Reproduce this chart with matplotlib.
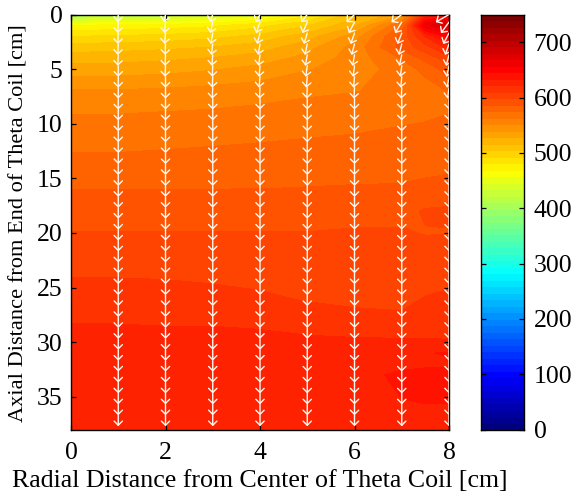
import numpy as np
import matplotlib
matplotlib.use('Agg')
import matplotlib.pyplot as plt
from matplotlib.colors import LinearSegmentedColormap
from matplotlib.patches import FancyArrowPatch

plt.rcParams['font.family'] = ['Liberation Serif', 'DejaVu Serif']

# temperature table, rows follow z_table, columns follow r_table
r_table = [0, 1, 2, 3, 4, 5, 6, 7, 7.5, 8]
z_table = [0, 1, 2, 3, 4, 5, 7, 9, 12, 16, 18, 20, 22, 24, 26, 28, 30, 31, 32, 33, 38]
temp = [
    [405, 412, 420, 432, 448, 475, 510, 535, 620, 640],
    [470, 472, 474, 478, 488, 503, 525, 575, 665, 680],
    [492, 494, 496, 500, 508, 522, 545, 590, 622, 650],
    [510, 511, 513, 516, 522, 535, 555, 590, 605, 625],
    [522, 523, 525, 528, 533, 543, 556, 575, 590, 605],
    [532, 533, 535, 538, 543, 550, 556, 568, 578, 592],
    [552, 552, 553, 555, 557, 560, 562, 566, 568, 575],
    [562, 562, 563, 564, 566, 568, 569, 571, 572, 574],
    [572, 572, 573, 574, 575, 576, 577, 579, 580, 580],
    [586, 586, 586, 586, 586, 586.5, 587, 587, 588, 589],
    [592, 592, 592, 592, 592, 592, 593, 594, 599, 600],
    [598, 598, 598, 598, 598, 598, 599, 599, 597, 597],
    [603, 603, 603, 603, 602, 601, 601, 602, 603, 609.5],
    [609, 609, 608.5, 607, 605, 604, 604, 604, 604, 606],
    [615, 615, 615, 614, 612, 608, 606, 606, 610, 612],
    [620.5, 620.5, 620, 620, 619, 617, 614, 612, 612, 615],
    [624, 624, 624, 624, 624, 623, 623, 623, 623, 622],
    [625, 625, 625, 625, 625, 625, 625, 629, 632, 634],
    [627, 627, 627, 627, 627, 627, 627, 630, 631, 631],
    [628, 628, 628, 628, 628, 628, 629, 635, 636, 636],
    [630, 630, 630, 630, 630, 630, 630, 630, 630, 630],
]

# velocity arrows: one column per r, first rows carry the sideways lean
arrow_r = [1, 2, 3, 4, 5, 6, 7, 8]
arrow_z = list(range(38))
lean_rows = [
    [-0.01, -0.03, -0.06, -0.09, -0.13, -0.17, -0.22, -0.28],
    [-0.01, -0.02, -0.05, -0.08, -0.10, -0.12, -0.14, -0.17],
    [-0.01, -0.02, -0.04, -0.06, -0.07, -0.08, -0.09, -0.12],
    [-0.01, -0.01, -0.03, -0.04, -0.05, -0.06, -0.06, -0.08],
    [-0.01, -0.01, -0.02, -0.03, -0.04, -0.04, -0.05, -0.06],
    [-0.00, -0.01, -0.01, -0.02, -0.03, -0.03, -0.03, -0.05],
    [-0.00, -0.00, -0.01, -0.02, -0.02, -0.02, -0.02, -0.04],
    [-0.00, -0.00, -0.01, -0.01, -0.01, -0.01, -0.01, -0.03],
]

x_ticks = [0, 2, 4, 6, 8]
y_ticks = [0, 5, 10, 15, 20, 25, 30, 35]
cbar_ticks = [0, 100, 200, 300, 400, 500, 600, 700]
vmax = 750
levels = np.linspace(0, vmax, 65)

# matlab flavour of jet, 64 steps
cmap = LinearSegmentedColormap.from_list('matlab_jet', [
    (0, (0, 0, 0.5)), (1 / 8, (0, 0, 1)), (3 / 8, (0, 1, 1)),
    (5 / 8, (1, 1, 0)), (7 / 8, (1, 0, 0)), (1, (0.5, 0, 0))], N=64)

fig = plt.figure(figsize=(5.72, 4.96), dpi=100)
W, H = 572.0, 496.0
ax = fig.add_axes([71 / W, 1 - 429.5 / H, 378 / W, 415 / H])
cax = fig.add_axes([481 / W, 1 - 429.5 / H, 43 / W, 415 / H])

ax.contourf(r_table, z_table, temp, levels=levels, cmap=cmap, vmin=0, vmax=vmax)
ax.set_xlim(0, 8)
ax.set_ylim(38, 0)

for i, r in enumerate(arrow_r):
    for z in arrow_z:
        dr = lean_rows[z][i] if z < len(lean_rows) else 0.0
        arrow = FancyArrowPatch((r, max(z - 0.3, 0)), (r + dr, z + 0.7),
                                arrowstyle='->,head_length=0.3,head_width=0.3',
                                mutation_scale=10, color='#fff8f0', lw=1.0,
                                shrinkA=0, shrinkB=0, zorder=3)
        ax.add_patch(arrow)

ax.set_xticks(x_ticks)
ax.set_yticks(y_ticks)
ax.tick_params(direction='in', length=3.5, width=0.9, top=True, right=True, labelsize=18.5)
ax.tick_params(axis='x', pad=9)
ax.tick_params(axis='y', pad=6)
ax.set_xlabel('Radial Distance from Center of Theta Coil [cm]', fontsize=18.6, labelpad=4)
fig.text(19 / W, 1 - 223 / H, 'Axial Distance from End of Theta Coil [cm]', fontsize=16.1,
         rotation=90, ha='center', va='center')
for s in ax.spines.values():
    s.set_linewidth(1.0)

grad = (np.arange(64) + 0.5)[:, None]
cax.imshow(grad, origin='lower', aspect='auto', cmap=cmap, extent=[0, 1, 0, vmax],
           vmin=0, vmax=64)
cax.set_xticks([])
cax.yaxis.tick_right()
cax.set_yticks(cbar_ticks)
cax.tick_params(direction='in', length=3.5, width=0.9, left=True, right=True,
                labelsize=18.5, pad=7)
for s in cax.spines.values():
    s.set_linewidth(1.0)

fig.savefig('out.png', dpi=100)
